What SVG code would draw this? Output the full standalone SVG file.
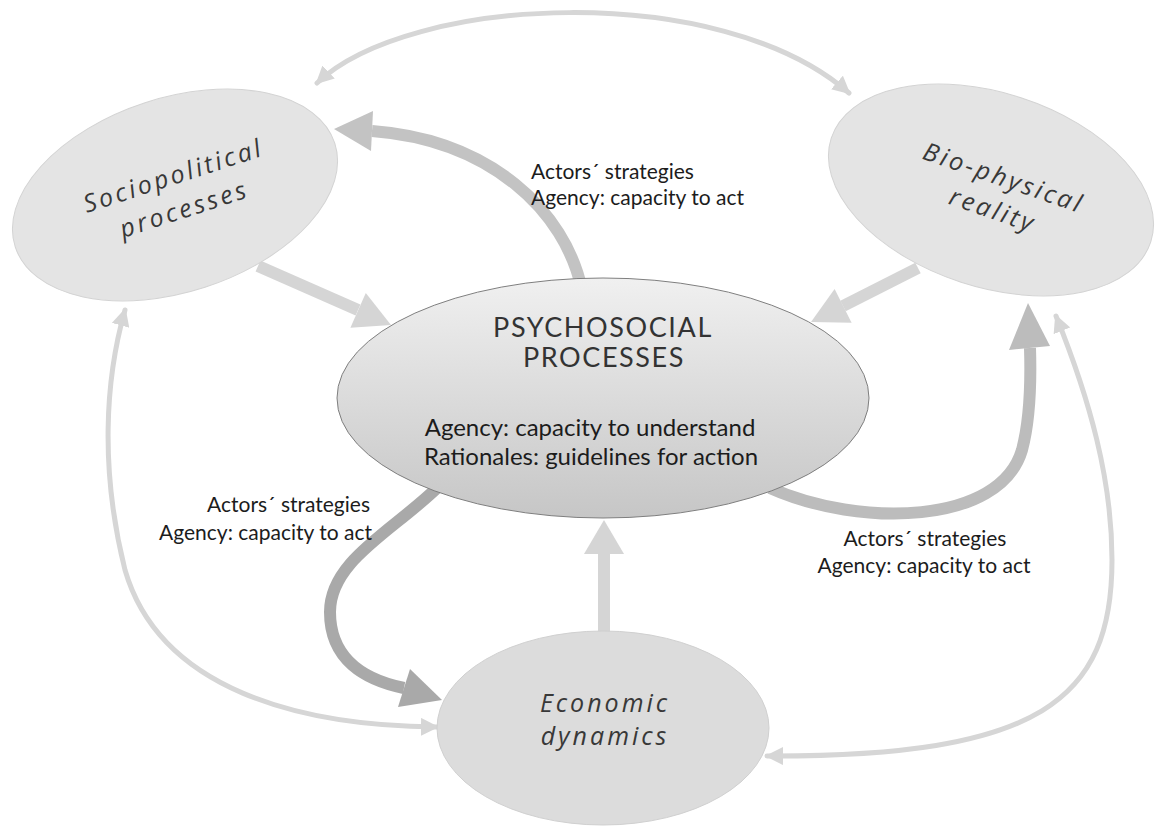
<svg xmlns="http://www.w3.org/2000/svg" width="1155" height="826" viewBox="0 0 1155 826">
  <defs>
    <linearGradient id="psychoFill" x1="0" y1="0" x2="0" y2="1">
      <stop offset="0" stop-color="#f0f0f0"/>
      <stop offset="1" stop-color="#c6c6c6"/>
    </linearGradient>
    <marker id="thinHead" viewBox="0 0 18 18" refX="16" refY="9" markerWidth="18" markerHeight="18" markerUnits="userSpaceOnUse" orient="auto-start-reverse">
      <path d="M0,0 L18,9 L0,18 z" fill="#d6d6d6"/>
    </marker>
  </defs>
  <style>
    .bg { fill: #ffffff; }
    .outer { fill: #e4e4e4; stroke: #d3d3d3; stroke-width: 1; }
    .econ { fill: #dcdcdc; stroke: #d0d0d0; stroke-width: 1; }
    .psycho { fill: url(#psychoFill); stroke: #7f7f7f; stroke-width: 1; }
    .thin { fill: none; stroke: #d6d6d6; stroke-width: 5; stroke-linecap: round; }
    .light { fill: none; stroke: #d5d5d5; stroke-width: 12; }
    .lightHead { fill: #d5d5d5; }
    .mid { fill: none; stroke: #c3c3c3; stroke-width: 12; }
    .midHead { fill: #c3c3c3; }
    .strong { fill: none; stroke: #bcbcbc; stroke-width: 12; }
    .strongHead { fill: #bcbcbc; }
    .dark { fill: none; stroke: #a9a9a9; stroke-width: 12; }
    .darkHead { fill: #a9a9a9; }
    .title { font-family: "Open Sans", "Liberation Sans", sans-serif; font-style: italic; font-size: 25px; letter-spacing: 3px; fill: #383838; text-anchor: middle; }
    .caps { font-family: Lato, "Liberation Sans", sans-serif; font-size: 27px; letter-spacing: 1.6px; fill: #333333; text-anchor: middle; }
    .inner { font-family: Lato, "Liberation Sans", sans-serif; font-size: 24px; fill: #1c1c1c; text-anchor: middle; }
    .note { font-family: Lato, "Liberation Sans", sans-serif; font-size: 21px; fill: #1c1c1c; }
  </style>

  <rect class="bg" x="0" y="0" width="1155" height="826"/>

  <!-- connectors -->
  <g id="connectors">
    <!-- two-way link between sociopolitical and bio-physical -->
    <path class="thin" d="M317,83 C410,-5 720,-20 849,93" marker-start="url(#thinHead)" marker-end="url(#thinHead)"/>
    <!-- two-way link between sociopolitical and economic -->
    <path class="thin" d="M125,310 C105,380 100,470 125,570 C160,690 300,726 437,727" marker-start="url(#thinHead)" marker-end="url(#thinHead)"/>
    <!-- two-way link between bio-physical and economic -->
    <path class="thin" d="M1056,316 C1090,400 1112,480 1112,560 C1112,700 1040,757 767,756" marker-start="url(#thinHead)" marker-end="url(#thinHead)"/>

    <!-- sociopolitical to psychosocial -->
    <path class="light" d="M258,266 L358,310"/>
    <polygon class="lightHead" points="391,325 350.4,327.8 365.8,293"/>
    <!-- bio-physical to psychosocial -->
    <path class="light" d="M918,268 L843,306"/>
    <polygon class="lightHead" points="811,322 851.6,322.7 834.6,288.9"/>
    <!-- economic to psychosocial -->
    <path class="light" d="M604,634 L604,552"/>
    <polygon class="lightHead" points="604,520 584,554 624,554"/>

    <!-- psychosocial to sociopolitical -->
    <path class="mid" d="M582,290 C565,210 490,140 372,131"/>
    <polygon class="midHead" points="334,129 373,111 371,151"/>
    <!-- psychosocial to bio-physical -->
    <path class="strong" d="M770,488 C860,528 1000,525 1022,450 C1030,420 1031,380 1030,348"/>
    <polygon class="strongHead" points="1028,303 1009,350 1050,346"/>
    <!-- psychosocial to economic -->
    <path class="dark" d="M440,485 C395,530 330,560 330,612 C330,660 365,680 404,688"/>
    <polygon class="darkHead" points="442,700 398,707 410,669"/>
  </g>

  <!-- nodes -->
  <g id="sociopolitical">
    <ellipse class="outer" cx="175" cy="195" rx="168" ry="97" transform="rotate(-18 175 195)"/>
    <g transform="translate(176,184) rotate(-18)">
      <text class="title" x="0" y="0">Sociopolitical</text>
      <text class="title" x="0" y="35">processes</text>
    </g>
  </g>

  <g id="biophysical">
    <ellipse class="outer" cx="991" cy="190" rx="168" ry="97" transform="rotate(18 991 190)"/>
    <g transform="translate(1001,186) rotate(19)">
      <text class="title" x="0" y="0">Bio-physical</text>
      <text class="title" x="0" y="34">reality</text>
    </g>
  </g>

  <g id="economic">
    <ellipse class="econ" cx="603" cy="728" rx="166" ry="97"/>
    <text class="title" x="605" y="712">Economic</text>
    <text class="title" x="605" y="745">dynamics</text>
  </g>

  <g id="psychosocial">
    <ellipse class="psycho" cx="603" cy="398" rx="266" ry="120"/>
    <text class="caps" x="603" y="337">PSYCHOSOCIAL</text>
    <text class="caps" x="604" y="367">PROCESSES</text>
    <text class="inner" x="590" y="436">Agency: capacity to understand</text>
    <text class="inner" x="591" y="465">Rationales: guidelines for action</text>
  </g>

  <!-- connector labels -->
  <g id="labels">
    <text class="note" x="531" y="179">Actors´ strategies</text>
    <text class="note" x="531" y="205">Agency: capacity to act</text>
    <text class="note" x="370" y="512" text-anchor="end">Actors´ strategies</text>
    <text class="note" x="372" y="540" text-anchor="end">Agency: capacity to act</text>
    <text class="note" x="925" y="546" text-anchor="middle">Actors´ strategies</text>
    <text class="note" x="924" y="573" text-anchor="middle">Agency: capacity to act</text>
  </g>
</svg>
